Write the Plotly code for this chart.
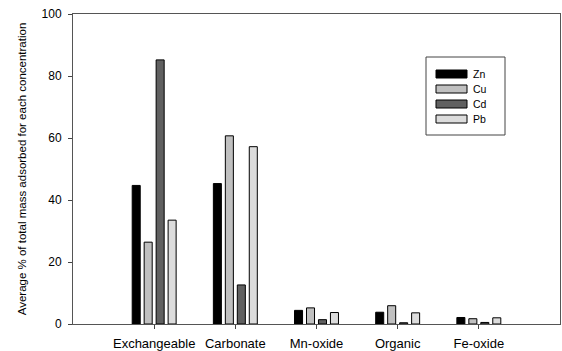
import plotly.graph_objects as go

categories = ["Exchangeable", "Carbonate", "Mn-oxide", "Organic", "Fe-oxide"]
zn = [44.7, 45.3, 4.4, 3.8, 2.1]
cu = [26.4, 60.7, 5.2, 5.9, 1.7]
cd = [85.2, 12.6, 1.4, 0.4, 0.5]
pb = [33.5, 57.2, 3.7, 3.6, 2.0]
series_names = ["Zn", "Cu", "Cd", "Pb"]
series_values = [zn, cu, cd, pb]
colors = ["#000000", "#c0c0c0", "#606060", "#dcdcdc"]
y_ticks = [0, 20, 40, 60, 80, 100]

FONT = "Liberation Sans, Arial, sans-serif"
W, H = 562, 351
L, R, T, B = 73, 2, 14, 27
PW, PH = W - L - R, H - T - B


def px(x):  # x in pixels -> paper
    return (x - L) / PW


def py(y):  # y in pixels -> paper
    return (H - B - y) / PH


fig = go.Figure()
for name, vals, col in zip(series_names, series_values, colors):
    fig.add_trace(go.Bar(
        x=list(range(len(categories))), y=vals, name=name,
        marker=dict(color=col, line=dict(color="#000000", width=1)),
        showlegend=False,
    ))

# custom legend (box with wide swatches)
shapes = [dict(type="rect", xref="paper", yref="paper",
               x0=px(426), x1=px(505), y0=py(135), y1=py(57),
               line=dict(color="#444444", width=1), fillcolor="white")]
annotations = []
for i, (name, col) in enumerate(zip(series_names, colors)):
    top = 70 + i * 15
    shapes.append(dict(type="rect", xref="paper", yref="paper",
                       x0=px(436), x1=px(467), y0=py(top + 8), y1=py(top),
                       line=dict(color="#000000", width=1), fillcolor=col))
    annotations.append(dict(xref="paper", yref="paper", x=px(471), y=py(top + 4),
                            text=name, showarrow=False, xanchor="left",
                            yanchor="middle", font=dict(size=10.5)))

fig.update_layout(
    width=W, height=H,
    margin=dict(l=L, r=R, t=T, b=B),
    paper_bgcolor="white", plot_bgcolor="white",
    barmode="group", bargap=0.41, bargroupgap=0.33,
    font=dict(family=FONT, size=11, color="#000000"),
    showlegend=False,
    shapes=shapes, annotations=annotations,
)
fig.update_xaxes(
    range=[-1, 5], tickmode="array",
    tickvals=list(range(len(categories))), ticktext=categories,
    ticks="outside", ticklen=4, tickcolor="#444444",
    showline=True, linecolor="#555555", linewidth=1, mirror=True,
    showgrid=False, zeroline=False, automargin=False,
    tickfont=dict(size=13), ticklabelstandoff=3,
)
fig.update_yaxes(
    range=[0, 100], tickvals=y_ticks,
    ticks="outside", ticklen=4, tickcolor="#444444",
    showline=True, linecolor="#555555", linewidth=1, mirror=True,
    showgrid=False, zeroline=False, automargin=False,
    tickfont=dict(size=12), ticklabelstandoff=4,
    title=dict(text="Average % of total mass adsorbed for each concentration",
               font=dict(size=11.5), standoff=12),
)

fig.write_html(
    "out.html",
    config={"displayModeBar": False},
    post_script="document.body.style.margin='0';document.body.style.overflow='hidden';",
)
